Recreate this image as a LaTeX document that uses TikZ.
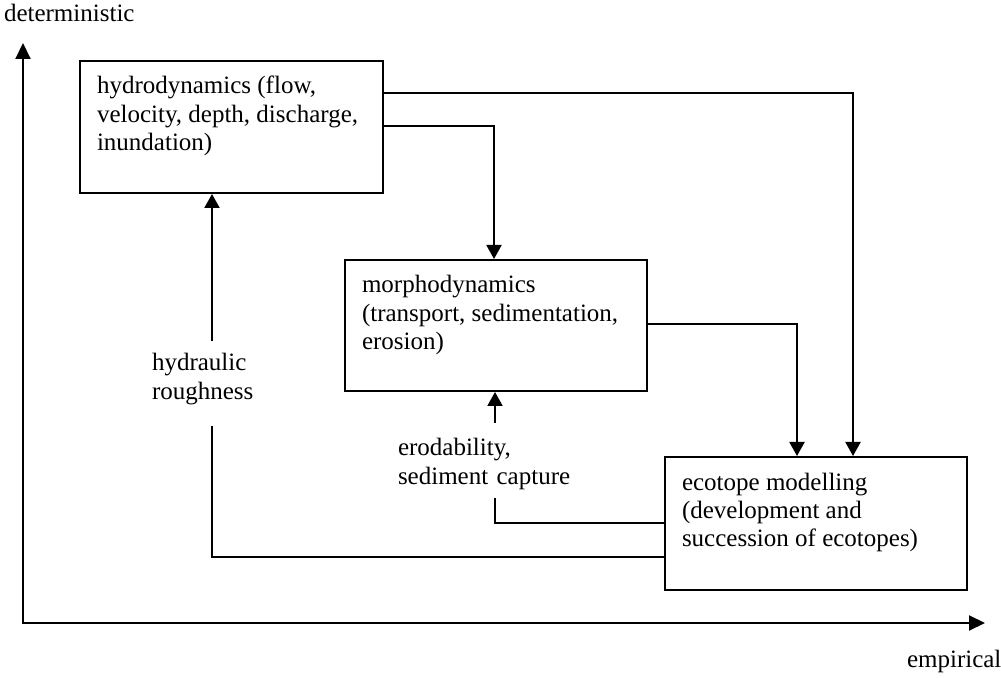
\documentclass[tikz,border=0pt]{standalone}
\usepackage{fontspec}
\setmainfont{Liberation Serif}
\usetikzlibrary{arrows.meta,calc}
\newcommand\bxtext[3]{\parbox[c][#2][t]{#1}{\raggedright\leftskip=8.5pt\relax\rule{0pt}{16.5pt}#3}}
\begin{document}
\begin{tikzpicture}[x=0.5pt,y=-0.5pt,
  font=\fontsize{12.5}{14.2}\selectfont,
  line width=1pt,
  boxnode/.style={draw, line width=1pt, anchor=north west, inner sep=0pt},
  lbl/.style={inner sep=0pt, anchor=base west, align=left},
  arr/.style={-{Triangle[width=7.5pt,length=7pt]}}]
\useasboundingbox (0,0) rectangle (1001,678);
% axes
\coordinate (origin) at (23,623);
\coordinate (ytip) at (23,43);
\coordinate (xtip) at (985,623);
\draw[{Triangle[width=7.5pt,length=8pt]}-{Triangle[width=7.5pt,length=8pt]}] (ytip) -- (origin) -- (xtip);
\node[lbl] (det) at (3,22) {deterministic};
\node[lbl] (emp) at (906,667) {empirical};
% boxes
\node[boxnode] (hydro) at (79,60) {\bxtext{151.5pt}{66pt}{hydrodynamics (flow,\\velocity, depth, discharge,\\inundation)}};
\node[boxnode] (morpho) at (344,259) {\bxtext{151pt}{65.5pt}{morphodynamics\\(transport, sedimentation,\\erosion)}};
\node[boxnode] (ecotope) at (664,456) {\bxtext{151pt}{66.5pt}{ecotope modelling\\(development and\\succession of ecotopes)}};
% labels
\node[lbl, text width=70pt] (rough) at (151,371) {hydraulic\\roughness};
\node[lbl, text width=95pt] (erod) at (397,456) {erodability,\\sediment capture};
\coordinate (erodlow) at (495,498);
\coordinate (erodhigh) at (495,423);
\coordinate (roughlow) at (212,426);
\coordinate (roughhigh) at (212,341);
% connectors
\draw[arr] ($(hydro.north east)+(0,33)$) -| ($(ecotope.north west)+(189,0)$);
\draw[arr] ($(hydro.north east)+(0,66)$) -| ($(morpho.north west)+(150,0)$);
\draw[arr] ($(morpho.north east)+(0,65)$) -| ($(ecotope.north west)+(133,0)$);
\draw ($(ecotope.north west)+(0,67)$) -| (erodlow);
\draw[arr] (erodhigh) -- (erodhigh |- morpho.south);
\draw ($(ecotope.north west)+(0,101)$) -| (roughlow);
\draw[arr] (roughhigh) -- (roughhigh |- hydro.south);
\end{tikzpicture}
\end{document}
